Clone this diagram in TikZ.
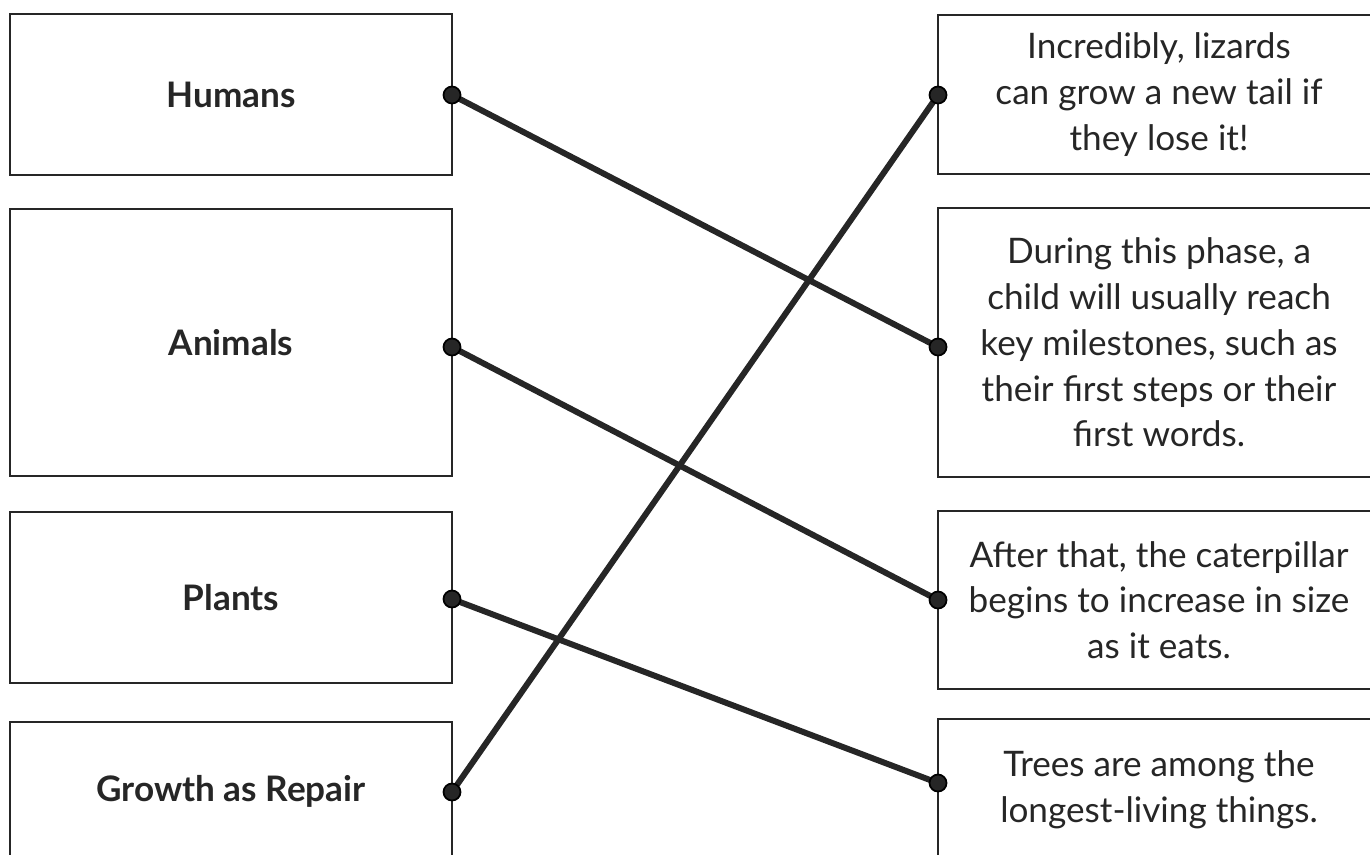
\documentclass[tikz,border=0pt]{standalone}
\usepackage{xcolor}
\usepackage{fontspec}
\setmainfont{Lato}
\usepackage{tikz}
\usepackage{tikz-network}
\definecolor{ink}{RGB}{38,38,38}
\tikzset{
	card/.style={draw=ink, line width=1.5pt, minimum width=8.84cm, align=center, text=ink, font=\fontsize{20}{26}\selectfont},
	topic/.style={card, font=\bfseries\fontsize{20}{26}\selectfont}
}

\begin{document}
\begin{tikzpicture}
	\useasboundingbox (0,0) rectangle (27.4,-17.08);
	\node[topic, minimum height=3.22cm] (humans) at (4.62,-1.89) {Humans};
	\node[topic, minimum height=5.34cm] (animals) at (4.62,-6.85) {Animals};
	\node[topic, minimum height=3.42cm] (plants) at (4.62,-11.95) {Plants};
	\node[topic, minimum height=2.76cm] (growth) at (4.62,-15.82) {Growth as Repair};
	\node[card, minimum height=3.18cm] (lizards) at (23.18,-1.89) {Incredibly, lizards\\can grow a new tail if\\they lose it!};
	\node[card, minimum height=5.38cm] (child) at (23.18,-6.85) {During this phase, a\\child will usually reach\\key milestones, such as\\their first steps or their\\first words.};
	\node[card, minimum height=3.56cm] (caterpillar) at (23.18,-12.0) {After that, the caterpillar\\begins to increase in size\\as it eats.};
	\node[card, minimum height=2.84cm] (trees) at (23.18,-15.8) {Trees are among the\\longest-living things.};
	\Vertex[x=9.04, y=-1.90, size=0.34, color=ink, opacity=1]{hdot}
	\Vertex[x=9.04, y=-6.94, size=0.34, color=ink, opacity=1]{adot}
	\Vertex[x=9.04, y=-11.98, size=0.34, color=ink, opacity=1]{pdot}
	\Vertex[x=9.04, y=-15.84, size=0.34, color=ink, opacity=1]{gdot}
	\Vertex[x=18.76, y=-1.90, size=0.34, color=ink, opacity=1]{ldot}
	\Vertex[x=18.76, y=-6.94, size=0.34, color=ink, opacity=1]{cdot}
	\Vertex[x=18.76, y=-12.0, size=0.34, color=ink, opacity=1]{kdot}
	\Vertex[x=18.76, y=-15.66, size=0.34, color=ink, opacity=1]{tdot}
	\Edge[lw=3.4, color=ink](hdot)(cdot)
	\Edge[lw=3.4, color=ink](adot)(kdot)
	\Edge[lw=3.4, color=ink](pdot)(tdot)
	\Edge[lw=3.4, color=ink](gdot)(ldot)
\end{tikzpicture}
\end{document}
